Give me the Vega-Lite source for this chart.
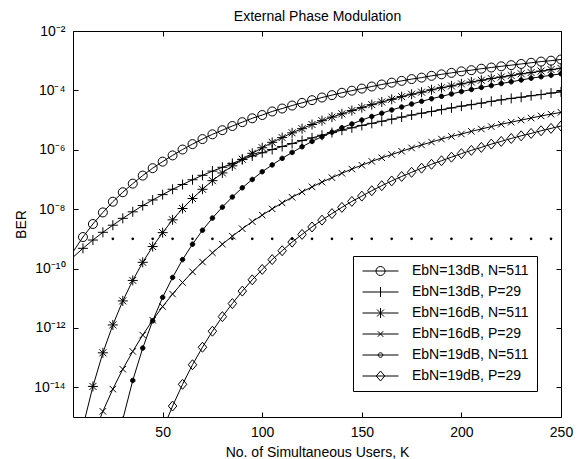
{
  "$schema": "https://vega.github.io/schema/vega-lite/v6.json",
  "autosize": {"type": "none"},
  "padding": {"left": 73, "top": 31, "right": 24, "bottom": 42},
  "width": 488,
  "height": 386,
  "background": "white",
  "config": {
    "font": "Liberation Sans",
    "view": {"stroke": "black", "strokeWidth": 1},
    "axis": {
      "labelFont": "Liberation Sans", "labelFontSize": 14, "labelColor": "black",
      "titleFont": "Liberation Sans", "titleFontSize": 14, "titleFontWeight": "normal", "titleColor": "black",
      "tickColor": "black", "tickWidth": 1, "grid": false, "domain": false
    }
  },
  "datasets": {
    "ber": [
      {"K": 5, "n13": 3.63e-10, "p13": 2.40e-10},
      {"K": 10, "n13": 1.15e-9, "p13": 4.79e-10, "n16": 4.79e-16},
      {"K": 15, "n13": 3.16e-9, "p13": 9.12e-10, "n16": 1.07e-14, "p16": 2.24e-16},
      {"K": 20, "n13": 7.76e-9, "p13": 1.66e-9, "n16": 1.45e-13, "p16": 1.55e-15},
      {"K": 25, "n13": 1.78e-8, "p13": 2.88e-9, "n16": 1.26e-12, "p16": 8.71e-15},
      {"K": 30, "n13": 3.72e-8, "p13": 4.90e-9, "n16": 8.13e-12, "p16": 4.07e-14, "n19": 8.32e-16},
      {"K": 35, "n13": 7.24e-8, "p13": 8.13e-9, "n16": 3.98e-11, "p16": 1.62e-13, "n19": 1.70e-14},
      {"K": 40, "n13": 1.35e-7, "p13": 1.32e-8, "n16": 1.62e-10, "p16": 5.75e-13, "n19": 2.09e-13},
      {"K": 45, "n13": 2.40e-7, "p13": 2.04e-8, "n16": 5.50e-10, "p16": 1.82e-12, "n19": 1.74e-12},
      {"K": 50, "n13": 3.98e-7, "p13": 3.09e-8, "n16": 1.62e-9, "p16": 5.25e-12, "n19": 1.07e-11, "p19": 3.63e-16},
      {"K": 55, "n13": 6.46e-7, "p13": 4.68e-8, "n16": 4.37e-9, "p16": 1.38e-11, "n19": 5.01e-11, "p19": 2.34e-15},
      {"K": 60, "n13": 1.02e-6, "p13": 6.76e-8, "n16": 1.05e-8, "p16": 3.39e-11, "n19": 2.00e-10, "p19": 1.26e-14},
      {"K": 65, "n13": 1.55e-6, "p13": 9.77e-8, "n16": 2.29e-8, "p16": 7.76e-11, "n19": 6.61e-10, "p19": 5.75e-14},
      {"K": 70, "n13": 2.29e-6, "p13": 1.38e-7, "n16": 4.68e-8, "p16": 1.66e-10, "n19": 1.95e-9, "p19": 2.24e-13},
      {"K": 75, "n13": 3.31e-6, "p13": 1.91e-7, "n16": 9.12e-8, "p16": 3.39e-10, "n19": 5.01e-9, "p19": 7.76e-13},
      {"K": 80, "n13": 4.57e-6, "p13": 2.57e-7, "n16": 1.66e-7, "p16": 6.61e-10, "n19": 1.17e-8, "p19": 2.40e-12},
      {"K": 85, "n13": 6.31e-6, "p13": 3.47e-7, "n16": 2.88e-7, "p16": 1.23e-9, "n19": 2.57e-8, "p19": 6.61e-12},
      {"K": 90, "n13": 8.51e-6, "p13": 4.68e-7, "n16": 4.79e-7, "p16": 2.19e-9, "n19": 5.25e-8, "p19": 1.74e-11},
      {"K": 95, "n13": 1.15e-5, "p13": 6.17e-7, "n16": 7.59e-7, "p16": 3.80e-9, "n19": 1.00e-7, "p19": 4.17e-11},
      {"K": 100, "n13": 1.48e-5, "p13": 7.94e-7, "n16": 1.17e-6, "p16": 6.31e-9, "n19": 1.82e-7, "p19": 9.33e-11},
      {"K": 105, "n13": 1.95e-5, "p13": 1.02e-6, "n16": 1.78e-6, "p16": 1.02e-8, "n19": 3.09e-7, "p19": 2.00e-10},
      {"K": 110, "n13": 2.45e-5, "p13": 1.29e-6, "n16": 2.57e-6, "p16": 1.62e-8, "n19": 5.13e-7, "p19": 3.98e-10},
      {"K": 115, "n13": 3.09e-5, "p13": 1.62e-6, "n16": 3.72e-6, "p16": 2.51e-8, "n19": 8.13e-7, "p19": 7.76e-10},
      {"K": 120, "n13": 3.80e-5, "p13": 2.04e-6, "n16": 5.13e-6, "p16": 3.80e-8, "n19": 1.26e-6, "p19": 1.41e-9},
      {"K": 125, "n13": 4.68e-5, "p13": 2.51e-6, "n16": 7.08e-6, "p16": 5.62e-8, "n19": 1.91e-6, "p19": 2.51e-9},
      {"K": 130, "n13": 5.75e-5, "p13": 3.09e-6, "n16": 9.55e-6, "p16": 8.13e-8, "n19": 2.75e-6, "p19": 4.27e-9},
      {"K": 135, "n13": 6.92e-5, "p13": 3.80e-6, "n16": 1.26e-5, "p16": 1.15e-7, "n19": 3.89e-6, "p19": 7.08e-9},
      {"K": 140, "n13": 8.32e-5, "p13": 4.57e-6, "n16": 1.62e-5, "p16": 1.62e-7, "n19": 5.50e-6, "p19": 1.15e-8},
      {"K": 145, "n13": 9.77e-5, "p13": 5.50e-6, "n16": 2.09e-5, "p16": 2.24e-7, "n19": 7.41e-6, "p19": 1.82e-8},
      {"K": 150, "n13": 1.15e-4, "p13": 6.61e-6, "n16": 2.63e-5, "p16": 3.02e-7, "n19": 1.00e-5, "p19": 2.75e-8},
      {"K": 155, "n13": 1.35e-4, "p13": 7.76e-6, "n16": 3.31e-5, "p16": 4.07e-7, "n19": 1.32e-5, "p19": 4.17e-8},
      {"K": 160, "n13": 1.58e-4, "p13": 9.12e-6, "n16": 4.07e-5, "p16": 5.37e-7, "n19": 1.70e-5, "p19": 6.17e-8},
      {"K": 165, "n13": 1.82e-4, "p13": 1.07e-5, "n16": 5.01e-5, "p16": 6.92e-7, "n19": 2.19e-5, "p19": 8.91e-8},
      {"K": 170, "n13": 2.09e-4, "p13": 1.26e-5, "n16": 6.17e-5, "p16": 8.91e-7, "n19": 2.75e-5, "p19": 1.26e-7},
      {"K": 175, "n13": 2.40e-4, "p13": 1.48e-5, "n16": 7.41e-5, "p16": 1.15e-6, "n19": 3.47e-5, "p19": 1.74e-7},
      {"K": 180, "n13": 2.69e-4, "p13": 1.70e-5, "n16": 8.71e-5, "p16": 1.45e-6, "n19": 4.27e-5, "p19": 2.40e-7},
      {"K": 185, "n13": 3.09e-4, "p13": 1.95e-5, "n16": 1.05e-4, "p16": 1.82e-6, "n19": 5.25e-5, "p19": 3.24e-7},
      {"K": 190, "n13": 3.47e-4, "p13": 2.24e-5, "n16": 1.23e-4, "p16": 2.29e-6, "n19": 6.31e-5, "p19": 4.27e-7},
      {"K": 195, "n13": 3.89e-4, "p13": 2.57e-5, "n16": 1.41e-4, "p16": 2.82e-6, "n19": 7.59e-5, "p19": 5.62e-7},
      {"K": 200, "n13": 4.37e-4, "p13": 2.95e-5, "n16": 1.66e-4, "p16": 3.39e-6, "n19": 9.12e-5, "p19": 7.41e-7},
      {"K": 205, "n13": 4.79e-4, "p13": 3.31e-5, "n16": 1.91e-4, "p16": 4.17e-6, "n19": 1.07e-4, "p19": 9.55e-7},
      {"K": 210, "n13": 5.37e-4, "p13": 3.72e-5, "n16": 2.19e-4, "p16": 5.01e-6, "n19": 1.26e-4, "p19": 1.20e-6},
      {"K": 215, "n13": 5.89e-4, "p13": 4.27e-5, "n16": 2.51e-4, "p16": 6.03e-6, "n19": 1.45e-4, "p19": 1.55e-6},
      {"K": 220, "n13": 6.46e-4, "p13": 4.79e-5, "n16": 2.82e-4, "p16": 7.24e-6, "n19": 1.70e-4, "p19": 1.91e-6},
      {"K": 225, "n13": 7.08e-4, "p13": 5.37e-5, "n16": 3.16e-4, "p16": 8.51e-6, "n19": 1.95e-4, "p19": 2.40e-6},
      {"K": 230, "n13": 7.76e-4, "p13": 5.89e-5, "n16": 3.63e-4, "p16": 1.00e-5, "n19": 2.24e-4, "p19": 2.95e-6},
      {"K": 235, "n13": 8.51e-4, "p13": 6.61e-5, "n16": 3.98e-4, "p16": 1.17e-5, "n19": 2.57e-4, "p19": 3.55e-6},
      {"K": 240, "n13": 9.33e-4, "p13": 7.24e-5, "n16": 4.47e-4, "p16": 1.38e-5, "n19": 2.88e-4, "p19": 4.37e-6},
      {"K": 245, "n13": 1.00e-3, "p13": 8.13e-5, "n16": 5.01e-4, "p16": 1.58e-5, "n19": 3.24e-4, "p19": 5.25e-6},
      {"K": 250, "n13": 1.10e-3, "p13": 8.91e-5, "n16": 5.50e-4, "p16": 1.82e-5, "n19": 3.63e-4, "p19": 6.31e-6}
    ],
    "thr": [
      {"K": 25, "BER": 1e-9}, {"K": 35, "BER": 1e-9}, {"K": 45, "BER": 1e-9}, {"K": 55, "BER": 1e-9},
      {"K": 65, "BER": 1e-9}, {"K": 75, "BER": 1e-9}, {"K": 85, "BER": 1e-9}, {"K": 95, "BER": 1e-9},
      {"K": 105, "BER": 1e-9}, {"K": 115, "BER": 1e-9}, {"K": 125, "BER": 1e-9}, {"K": 135, "BER": 1e-9},
      {"K": 145, "BER": 1e-9}, {"K": 155, "BER": 1e-9}, {"K": 165, "BER": 1e-9}, {"K": 175, "BER": 1e-9},
      {"K": 185, "BER": 1e-9}, {"K": 195, "BER": 1e-9}, {"K": 205, "BER": 1e-9}, {"K": 215, "BER": 1e-9},
      {"K": 225, "BER": 1e-9}, {"K": 235, "BER": 1e-9}, {"K": 245, "BER": 1e-9}
    ]
  },
  "layer": [
    {
      "data": {"name": "ber"},
      "transform": [
        {"fold": ["n13", "p13", "n16", "p16", "n19", "p19"], "as": ["series", "BER"]},
        {"filter": "isValid(datum.BER)"}
      ],
      "mark": {"type": "line", "color": "black", "strokeWidth": 1, "clip": true},
      "encoding": {
        "x": {"field": "K", "type": "quantitative",
          "scale": {"domain": [5, 250], "nice": false, "zero": false},
          "axis": {"orient": "bottom", "values": [50, 100, 150, 200, 250], "tickSize": -5, "labelPadding": 13, "labelFlush": false,
            "title": "No. of Simultaneous Users, K", "titlePadding": 6}},
        "y": {"field": "BER", "type": "quantitative",
          "scale": {"type": "log", "domain": [1e-15, 1e-2], "nice": false},
          "axis": {"orient": "left", "values": [1e-14, 1e-12, 1e-10, 1e-8, 1e-6, 1e-4, 1e-2], "tickSize": -5, "labelPadding": 13,
            "labelExpr": "'10' + ['⁻¹⁴','⁻¹²','⁻¹⁰','⁻⁸','⁻⁶','⁻⁴','⁻²'][(round(log(datum.value)/LN10)+14)/2]",
            "title": "BER", "titlePadding": 5}},
        "detail": {"field": "series"}
      }
    },
    {
      "data": {"name": "ber"},
      "transform": [
        {"fold": ["n13", "p13", "n16", "p16", "n19", "p19"], "as": ["series", "BER"]},
        {"filter": "isValid(datum.BER) && datum.K >= 10"}
      ],
      "mark": {"type": "point", "clip": true, "opacity": 1, "strokeWidth": 1, "stroke": "black", "size": 100},
      "encoding": {
        "x": {"field": "K", "type": "quantitative", "axis": null},
        "y": {"field": "BER", "type": "quantitative", "axis": null},
        "shape": {"field": "series", "type": "nominal", "legend": null,
          "scale": {"domain": ["n13", "p13", "n16", "p16", "n19", "p19"],
            "range": [
              "M-0.9,0A0.9,0.9,0,1,1,0.9,0A0.9,0.9,0,1,1,-0.9,0Z",
              "M-1,0H1M0,-1V1",
              "M-1,0H1M0,-1V1M-0.7,-0.7L0.7,0.7M-0.7,0.7L0.7,-0.7",
              "M-0.65,-0.65L0.65,0.65M-0.65,0.65L0.65,-0.65",
              "M-0.45,0A0.45,0.45,0,1,1,0.45,0A0.45,0.45,0,1,1,-0.45,0Z",
              "M0,-1L0.85,0L0,1L-0.85,0Z"
            ]}},
        "fill": {"condition": {"test": "datum.series === 'n19'", "value": "black"}, "value": "transparent"}
      }
    },
    {
      "data": {"name": "ber"},
      "transform": [
        {"fold": ["n13", "p13", "n16", "p16", "n19", "p19"], "as": ["series", "BER"]},
        {"filter": "isValid(datum.BER) && datum.K == 250"}
      ],
      "mark": {"type": "point", "opacity": 0, "stroke": "black", "strokeWidth": 1},
      "encoding": {
        "x": {"field": "K", "type": "quantitative", "axis": null},
        "y": {"field": "BER", "type": "quantitative", "axis": null},
        "shape": {"field": "series", "type": "nominal",
          "scale": {"domain": ["n13", "p13", "n16", "p16", "n19", "p19"],
            "range": [
              "M-1.1,0H6.1M1.6,0A0.9,0.9,0,1,1,3.4,0A0.9,0.9,0,1,1,1.6,0Z",
              "M-1.1,0H6.1M2.5,-1V1",
              "M-1.1,0H6.1M2.5,-1V1M1.8,-0.7L3.2,0.7M1.8,0.7L3.2,-0.7",
              "M-1.1,0H6.1M1.95,-0.55L3.05,0.55M1.95,0.55L3.05,-0.55",
              "M-1.1,0H6.1M2.05,0A0.45,0.45,0,1,1,2.95,0A0.45,0.45,0,1,1,2.05,0Z",
              "M-1.1,0H6.1M2.5,-1L3.35,0L2.5,1L1.65,0Z"
            ]},
          "legend": {
            "orient": "none", "legendX": 280, "legendY": 225, "title": null,
            "labelFont": "Liberation Sans", "labelFontSize": 14, "labelColor": "black", "labelLimit": 300, "labelOffset": 37,
            "symbolSize": 100, "symbolStrokeWidth": 1, "symbolStrokeColor": "black", "symbolOpacity": 1,
            "strokeColor": "black", "fillColor": "white", "padding": 8, "rowPadding": 7,
            "labelExpr": "datum.label == 'n13' ? 'EbN=13dB, N=511' : datum.label == 'p13' ? 'EbN=13dB, P=29' : datum.label == 'n16' ? 'EbN=16dB, N=511' : datum.label == 'p16' ? 'EbN=16dB, P=29' : datum.label == 'n19' ? 'EbN=19dB, N=511' : 'EbN=19dB, P=29'",
            "encode": {"symbols": {"update": {
              "fill": {"signal": "datum.value === 'n19' ? 'black' : 'transparent'"},
              "stroke": {"value": "black"},
              "opacity": {"value": 1}
            }}}
          }}
      }
    },
    {
      "data": {"name": "thr"},
      "mark": {"type": "point", "shape": "circle", "filled": true, "color": "black", "opacity": 1, "size": 7, "clip": true},
      "encoding": {
        "x": {"field": "K", "type": "quantitative",
          "axis": {"orient": "top", "values": [50, 100, 150, 200, 250], "tickSize": -5, "labels": false,
            "title": "External Phase Modulation", "titleBaseline": "alphabetic", "titleAnchor": "middle", "titleX": 244, "titleY": -11,
            "minExtent": 0, "maxExtent": 0}},
        "y": {"field": "BER", "type": "quantitative",
          "axis": {"orient": "right", "values": [1e-14, 1e-12, 1e-10, 1e-8, 1e-6, 1e-4, 1e-2], "tickSize": -5, "labels": false, "title": null, "minExtent": 0, "maxExtent": 0}}
      }
    }
  ],
  "resolve": {"axis": {"x": "independent", "y": "independent"}, "scale": {"shape": "independent"}}
}
